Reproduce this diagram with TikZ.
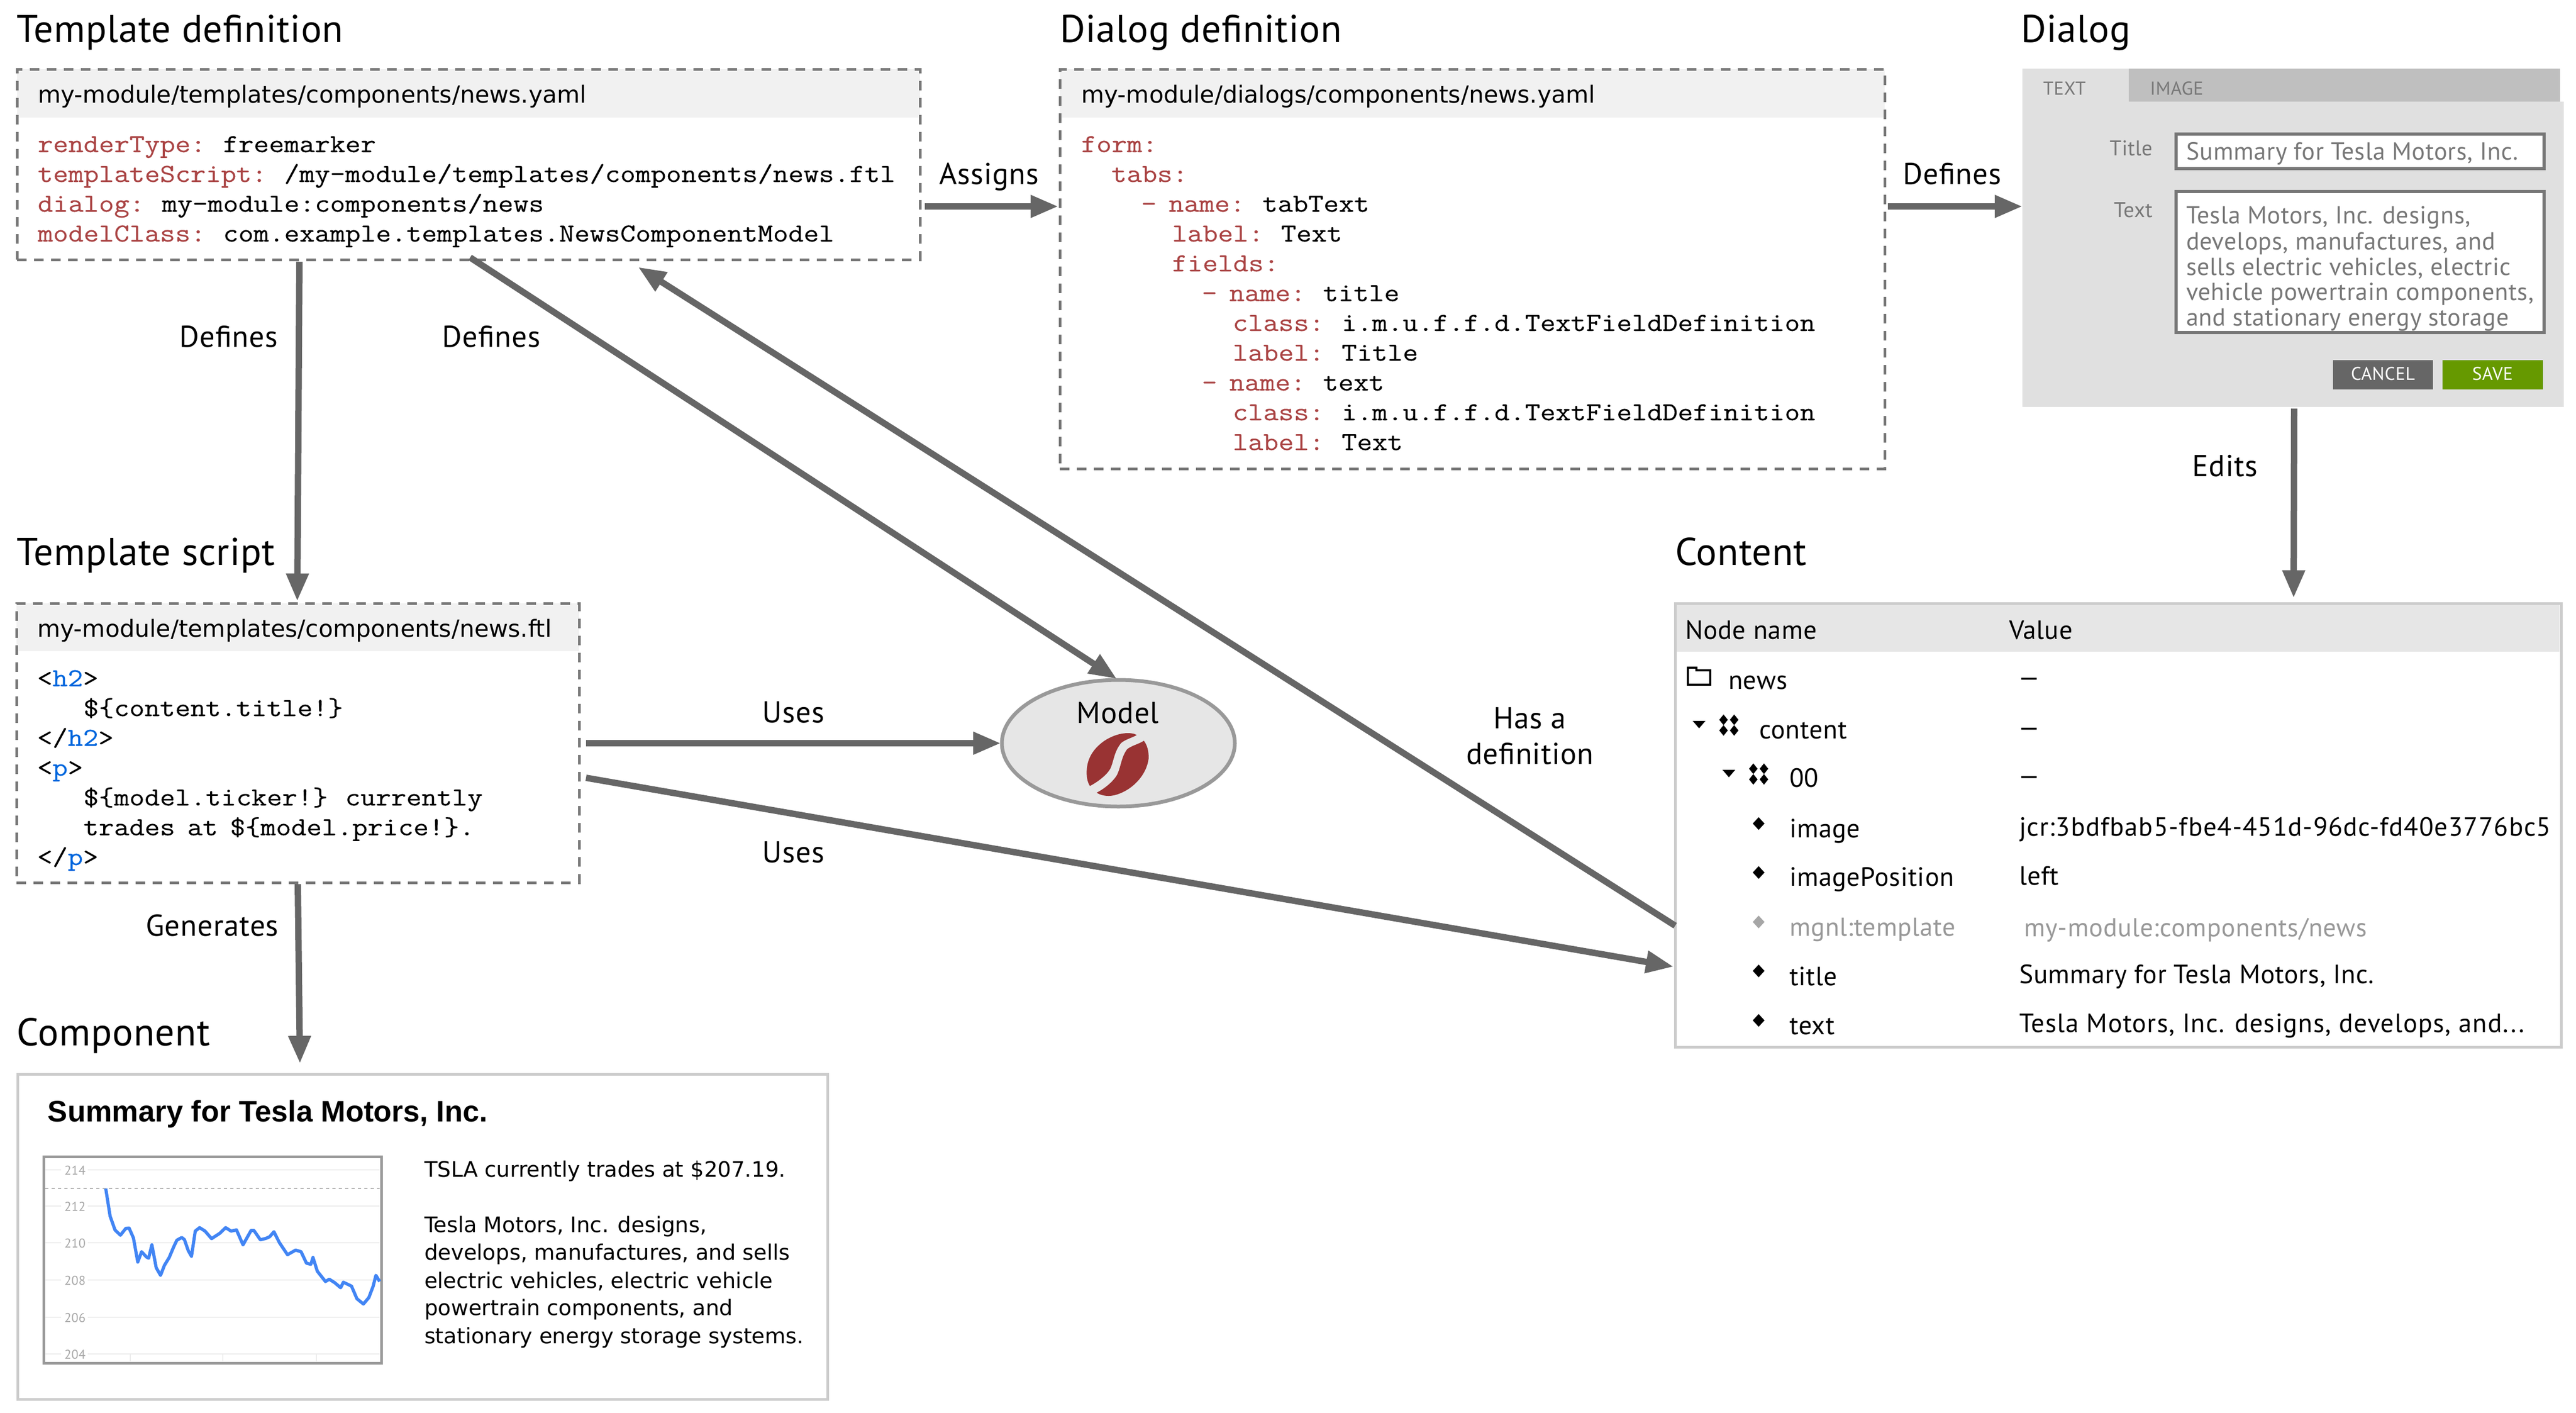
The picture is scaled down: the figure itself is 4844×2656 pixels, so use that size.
\documentclass[tikz,border=0pt]{standalone}
\usepackage{fontspec}
\usetikzlibrary{arrows.meta,calc,shapes.geometric}
\setmainfont{DejaVu Sans}
\newfontfamily\din{PT Sans}[LetterSpace=1.5]
\newfontfamily\dinh{PT Sans}[LetterSpace=1]
\newfontfamily\dinw{PT Sans}[LetterSpace=2.8]
\newfontfamily\vrd{DejaVu Sans}
\newfontfamily\arl{Liberation Sans}
\newfontfamily\code{Latin Modern Mono}[FakeStretch=1.143,FakeBold=0.3,WordSpace=0.8]
\definecolor{arrowgrey}{HTML}{666666}
\definecolor{dashgrey}{HTML}{777777}
\definecolor{headgrey}{HTML}{F1F1F1}
\definecolor{hgrey}{HTML}{E6E6E6}
\definecolor{dlgbg}{HTML}{E0E0E0}
\definecolor{tabgrey}{HTML}{BFBFBF}
\definecolor{dlgtxt}{HTML}{777777}
\definecolor{save}{HTML}{669900}
\definecolor{lightb}{HTML}{CCCCCC}
\definecolor{keyred}{HTML}{AA4444}
\definecolor{tagblue}{HTML}{0066DD}
\definecolor{bean}{HTML}{993333}
\definecolor{chartblue}{HTML}{4285F4}
\newcommand\PX[1]{(#1)*0.25pt}
\newcommand\fs[1]{\fontsize{#1pt}{#1pt}\selectfont}
\newcommand\Bx[6]{\node[#6,minimum width={\PX{#4-#2}},minimum height={\PX{#5-#3}},anchor=north west,inner sep=0pt,outer sep=0pt] (#1) at (#2,#3) {};}
% name x y text
\newcommand\Cd[4]{\node[tx,font=\code\fs{12.2}] (#1) at (#2,#3) {#4};}
\newcommand\kw[1]{\textcolor{keyred}{#1}}
\newcommand\tg[1]{\textcolor{tagblue}{#1}}
\newcommand\Dia[2]{\fill (#1-11,#2) -- (#1,#2-12) -- (#1+11,#2) -- (#1,#2+12) -- cycle;}
\newcommand\Quad[2]{\fill (#1-18,#2-10) -- (#1-10,#2-20) -- (#1-2,#2-10) -- (#1-10,#2) -- cycle;
 \fill (#1+2,#2-10) -- (#1+10,#2-20) -- (#1+18,#2-10) -- (#1+10,#2) -- cycle;
 \fill (#1-18,#2+10) -- (#1-10,#2) -- (#1-2,#2+10) -- (#1-10,#2+20) -- cycle;
 \fill (#1+2,#2+10) -- (#1+10,#2) -- (#1+18,#2+10) -- (#1+10,#2+20) -- cycle;}
\newcommand\Tri[2]{\fill (#1,#2) -- (#1+24,#2) -- (#1+12,#2+14) -- cycle;}
\tikzset{
 x=0.25pt,y=-0.25pt,
 tx/.style={anchor=base west,inner sep=0pt,outer sep=0pt},
 cx/.style={anchor=base,inner sep=0pt,outer sep=0pt},
 heading/.style={tx,font=\dinh\fs{18.2}},
 lab/.style={cx,font=\din\fs{14.2}},
 path/.style={tx,font=\vrd\fs{11.1}},
 arr/.style={draw=arrowgrey,line width=3pt,-{Triangle[length=13pt,width=10pt,fill=arrowgrey]}},
 dashbox/.style={draw=dashgrey,line width=1.25pt,dash pattern=on 4.5pt off 3.5pt},
 headfill/.style={fill=headgrey},
 litebox/.style={draw=lightb,line width=1.25pt,fill=white},
 dinput/.style={draw=dlgtxt,line width=1.6pt,fill=white},
 row/.style={tx,font=\din\fs{12.4}},
 rowwide/.style={tx,font=\dinw\fs{12.4}},
 rowgrey/.style={tx,font=\din\fs{12.2},text=gray!80},
 dtext/.style={tx,font=\din\fs{11.6},text=dlgtxt},
 btn/.style={cx,font=\din\fs{8.6},text=white},
 tick/.style={cx,font=\din\fs{6},text=gray!70},
 comptext/.style={tx,font=\vrd\fs{10.05}},
}
\begin{document}
\begin{tikzpicture}
\useasboundingbox (0,0) rectangle (4844,2656);
% ---------- headings
\node[heading] (h1) at (32,79) {Template definition};
\node[heading] (h2) at (1993,79) {Dialog definition};
\node[heading] (h3) at (3800,79) {Dialog};
\node[heading] (h4) at (32,1062) {Template script};
\node[heading] (h5) at (3150,1062) {Content};
\node[heading] (h6) at (32,1965) {Component};
% ---------- template definition
\Bx{tplh}{32}{130}{1730}{221}{headfill}
\Bx{tpl}{32}{130}{1730}{488}{dashbox}
\node[path] (tplp) at (71,193) {my-module/templates/components/news.yaml};
\Cd{t1}{71}{286}{\kw{renderType:} freemarker}
\Cd{t2}{71}{342}{\kw{templateScript:} /my-module/templates/components/news.ftl}
\Cd{t3}{71}{398}{\kw{dialog:} my-module:components/news}
\Cd{t4}{71}{454}{\kw{modelClass:} com.example.templates.NewsComponentModel}
% ---------- dialog definition
\Bx{ddefh}{1993}{130}{3544}{221}{headfill}
\Bx{ddef}{1993}{130}{3544}{881}{dashbox}
\node[path] (ddefp) at (2033,193) {my-module/dialogs/components/news.yaml};
\Cd{d1}{2033}{286}{\kw{form:}}
\Cd{d2}{2090}{342}{\kw{tabs:}}
\Cd{d3}{2146}{398}{\kw{-\ name:} tabText}
\Cd{d4}{2204}{454}{\kw{label:} Text}
\Cd{d5}{2204}{510}{\kw{fields:}}
\Cd{d6}{2260}{566}{\kw{-\ name:} title}
\Cd{d7}{2318}{622}{\kw{class:} i.m.u.f.f.d.TextFieldDefinition}
\Cd{d8}{2318}{678}{\kw{label:} Title}
\Cd{d9}{2260}{734}{\kw{-\ name:} text}
\Cd{d10}{2318}{790}{\kw{class:} i.m.u.f.f.d.TextFieldDefinition}
\Cd{d11}{2318}{846}{\kw{label:} Text}
% ---------- dialog
\Bx{dlg}{3803}{191}{4821}{765}{fill=dlgbg}
\Bx{tab1}{3803}{129}{4003}{191}{fill=dlgbg}
\Bx{tab2}{4003}{129}{4814}{191}{fill=tabgrey}
\node[tx,font=\din\fs{8.8},text=dlgtxt] (tabA) at (3842,178) {TEXT};
\node[tx,font=\din\fs{8.8},text=dlgtxt] (tabB) at (4043,178) {IMAGE};
\node[anchor=base east,inner sep=0pt,font=\din\fs{10},text=dlgtxt] (lt) at (4049,292) {Title};
\node[anchor=base east,inner sep=0pt,font=\din\fs{10},text=dlgtxt] (lx) at (4049,408) {Text};
\Bx{inp}{4092}{252}{4784}{317}{dinput}
\Bx{ta}{4092}{360}{4784}{625}{dinput}
\node[dtext] (it) at (4111,300) {Summary for Tesla Motors, Inc.};
\node[dtext] (a1) at (4111,420) {Tesla Motors, Inc. designs,};
\node[dtext] (a2) at (4111,469) {develops, manufactures, and};
\node[dtext] (a3) at (4111,517) {sells electric vehicles, electric};
\node[dtext] (a4) at (4111,564) {vehicle powertrain components,};
\node[dtext] (a5) at (4111,612) {and stationary energy storage};
\Bx{bc}{4387}{677}{4575}{732}{fill=arrowgrey}
\Bx{bs}{4593}{677}{4782}{732}{fill=save}
\node[btn] (bct) at (4481,714) {CANCEL};
\node[btn] (bst) at (4687,714) {SAVE};
% ---------- template script
\Bx{scrh}{31}{1134}{1089}{1224}{headfill}
\Bx{scr}{31}{1134}{1089}{1659}{dashbox}
\node[path] (scrp) at (70,1197) {my-module/templates/components/news.ftl};
\Cd{s1}{70}{1290}{<\tg{h2}>}
\Cd{s2}{157}{1346}{\$\{content.title!\}}
\Cd{s3}{70}{1402}{</\tg{h2}>}
\Cd{s4}{70}{1458}{<\tg{p}>}
\Cd{s5}{157}{1514}{\$\{model.ticker!\} currently}
\Cd{s6}{157}{1570}{trades at \$\{model.price!\}.}
\Cd{s7}{70}{1626}{</\tg{p}>}
% ---------- model
\node[draw=gray!80,line width=1.75pt,fill=hgrey,ellipse,inner sep=0pt,outer sep=0pt,minimum width={\PX{438}},minimum height={\PX{238}}] (model) at (2103,1397) {};
\node[lab] (modelt) at (2102,1359) {Model};
\begin{scope}[shift={(1800,1200)},xscale=.3827,yscale=.3333]
\fill[bean] (882,545) .. controls (860,528) and (790,525) .. (720,580) .. controls (660,630) and (635,690) .. (636,760) .. controls (636,790) and (642,815) .. (652,832) .. controls (690,810) and (735,770) .. (752,735) .. controls (770,690) and (770,640) .. (805,590) .. controls (825,570) and (860,560) .. (882,545) -- cycle;
\fill[bean] (917,577) .. controls (935,605) and (942,640) .. (940,680) .. controls (930,770) and (860,860) .. (770,885) .. controls (735,893) and (705,885) .. (685,870) .. controls (720,850) and (765,810) .. (785,770) .. controls (805,725) and (805,670) .. (835,625) .. controls (855,605) and (895,595) .. (917,577) -- cycle;
\end{scope}
% ---------- content
\Bx{cont}{3150}{1134}{4816}{1968}{litebox}
\Bx{conth}{3153}{1137}{4813}{1225}{fill=hgrey}
\node[row] (c0a) at (3169,1201) {Node name};
\node[row] (c0b) at (3778,1201) {Value};
\node[row] (c1) at (3250,1295) {news};
\node[row] (c2) at (3308,1388) {content};
\node[row] (c3) at (3365,1479) {00};
\node[row] (c4) at (3365,1574) {image};
\node[row] (c5) at (3365,1665) {imagePosition};
\node[rowgrey] (c6) at (3365,1759) {mgnl:template};
\node[row] (c7) at (3365,1852) {title};
\node[row] (c8) at (3365,1944) {text};
\node[row] (v1) at (3795,1290) {—};
\node[row] (v2) at (3795,1384) {—};
\node[row] (v3) at (3795,1475) {—};
\node[rowwide] (v4) at (3797,1571) {jcr:3bdfbab5-fbe4-451d-96dc-fd40e3776bc5};
\node[row] (v5) at (3797,1663) {left};
\node[rowgrey] (v6) at (3806,1760) {my-module:components/news};
\node[row] (v7) at (3797,1848) {Summary for Tesla Motors, Inc.};
\node[rowwide] (v8) at (3797,1940) {Tesla Motors, Inc. designs, develops, and...};
\draw[line width=.9pt] (3174,1255) -- (3174,1287) -- (3216,1287) -- (3216,1260) -- (3190,1260) -- (3190,1255) -- cycle;
\Tri{3183}{1355}
\Quad{3251}{1363}
\Tri{3239}{1447}
\Quad{3307}{1455}
\Dia{3307}{1548}
\Dia{3307}{1640}
\begin{scope}[gray!70]\Dia{3307}{1733}\end{scope}
\Dia{3307}{1825}
\Dia{3307}{1918}
% ---------- component
\Bx{comp}{33}{2019}{1556}{2630}{litebox}
\node[tx,font=\arl\bfseries\fs{13.95}] (ct) at (90,2108) {Summary for Tesla Motors, Inc.};
\Bx{chart}{82}{2174}{717}{2562}{draw=gray!80,line width=1.25pt,fill=white}
\begin{scope}[gray!15,line width=.5pt]
\draw (165,2199) -- (714,2199); \draw (165,2267) -- (714,2267); \draw (165,2336) -- (714,2336);
\draw (165,2406) -- (714,2406); \draw (165,2476) -- (714,2476); \draw (165,2545) -- (714,2545);
\draw (245,2545) -- (245,2559); \draw (419,2545) -- (419,2559); \draw (595,2545) -- (595,2559);
\draw (85,2199) -- (115,2199); \draw (85,2267) -- (115,2267); \draw (85,2336) -- (115,2336);
\draw (85,2406) -- (115,2406); \draw (85,2476) -- (115,2476); \draw (85,2545) -- (115,2545);
\end{scope}
\draw[gray!60,line width=.7pt,dash pattern=on 1.5pt off 1.5pt] (85,2234) -- (714,2234);
\node[tick] (k1) at (141,2208) {214};
\node[tick] (k2) at (141,2276) {212};
\node[tick] (k3) at (141,2345) {210};
\node[tick] (k4) at (141,2415) {208};
\node[tick] (k5) at (141,2485) {206};
\node[tick] (k6) at (141,2554) {204};
\begin{scope}[shift={(0,1980)},xscale=1.02,yscale=.431]
\draw[chartblue,line width=1.5pt,line join=round] (195,590) -- (203,710) -- (212,770) -- (222,793) -- (232,763) -- (238,762) -- (246,805) -- (254,910) -- (261,865) -- (270,888) -- (274,893) -- (280,835) -- (288,935) -- (296,968) -- (303,925) -- (312,890) -- (320,845) -- (326,815) -- (335,803) -- (340,812) -- (347,860) -- (353,885) -- (360,775) -- (368,760) -- (378,775) -- (390,808) -- (405,785) -- (416,760) -- (426,775) -- (436,770) -- (448,835) -- (463,772) -- (468,772) -- (480,813) -- (490,807) -- (497,800) -- (505,778) -- (515,825) -- (530,878) -- (545,858) -- (555,865) -- (565,915) -- (573,920) -- (577,890) -- (585,950) -- (600,995) -- (607,985) -- (617,1000) -- (628,1022) -- (633,998) -- (648,1015) -- (658,1070) -- (670,1093) -- (680,1065) -- (688,1015) -- (693,968) -- (700,995);
\end{scope}
\node[comptext] (p1) at (798,2212) {TSLA currently trades at \$207.19.};
\node[comptext] (p2) at (798,2316) {Tesla Motors, Inc. designs,};
\node[comptext] (p3) at (798,2368) {develops, manufactures, and sells};
\node[comptext] (p4) at (798,2421) {electric vehicles, electric vehicle};
\node[comptext] (p5) at (798,2472) {powertrain components, and};
\node[comptext] (p6) at (798,2525) {stationary energy storage systems.};
% ---------- connectors
\draw[arr] ($(tpl.south east)+(9,-100)$) -- ($(ddef.north west)+(-3,258)$);
\draw[arr] ($(ddef.north east)+(6,258)$) -- ($(dlg.north west)+(0,197)$);
\draw[arr] ($(tpl.south west)+(531,4)$) -- ($(scr.north)+(-1,-4)$);
\draw[arr] ($(tpl.south west)+(852,-4)$) -- ($(model.north)+(-3,-2)$);
\draw[arr] ($(cont.north west)+(0,606)$) -- ($(tpl.south west)+(1168,14)$);
\draw[arr] ($(scr.north east)+(13,263)$) -- ($(model.west)+(-2,0)$);
\draw[arr] ($(scr.north east)+(13,328)$) -- ($(cont.north west)+(-3,683)$);
\draw[arr] ($(scr.south)+(0,3)$) -- ($(comp.north west)+(531,-20)$);
\draw[arr] ($(dlg.south west)+(511,3)$) -- ($(cont.north west)+(1163,-10)$);
% ---------- connector labels
\node[lab] (l1) at (1860,346) {Assigns};
\node[lab] (l2) at (3671,346) {Defines};
\node[lab] (l3) at (430,652) {Defines};
\node[lab] (l4) at (924,652) {Defines};
\node[lab] (l5) at (4184,895) {Edits};
\node[lab] (l6) at (1492,1358) {Uses};
\node[lab] (l7) at (1492,1621) {Uses};
\node[lab] (l8) at (2877,1369) {Has a};
\node[lab] (l9) at (2877,1436) {definition};
\node[lab] (l10) at (399,1759) {Generates};
\end{tikzpicture}
\end{document}
